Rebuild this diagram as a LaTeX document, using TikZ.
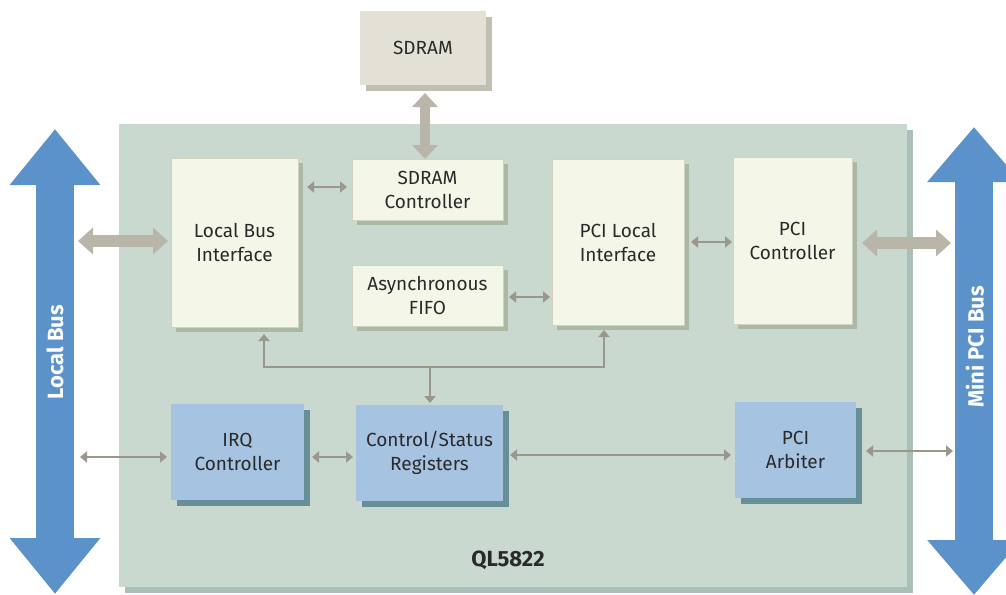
\documentclass[tikz,border=0pt]{standalone}
\usepackage{fontspec}
\setmainfont{Fira Sans}
\usetikzlibrary{shadows,arrows.meta}

\definecolor{chipfill}{HTML}{C9D9D0}
\definecolor{chipshadow}{HTML}{A9BFB7}
\definecolor{boxfill}{HTML}{F4F6E8}
\definecolor{boxline}{HTML}{D3D1C2}
\definecolor{boxshadow}{HTML}{AAB9A3}
\definecolor{bluefill}{HTML}{A6C3E2}
\definecolor{blueshadow}{HTML}{678F98}
\definecolor{busblue}{HTML}{5B92C9}
\definecolor{thinline}{HTML}{9B978C}
\definecolor{thickline}{HTML}{B9B6A9}
\definecolor{memfill}{HTML}{E3E1D5}
\definecolor{memshadow}{HTML}{C0C0B2}
\definecolor{txt}{HTML}{2A2A2A}

\tikzset{
  lbl/.style={font=\fontsize{19}{24}\selectfont, text=txt, align=center},
  block/.style={lbl, inner sep=0pt, outer sep=0pt},
  % box labels sit a little below the box centre
  lowtext/.style={execute at begin node={\vspace*{6pt}}},
  lightbox/.style={block, lowtext, fill=boxfill, draw=boxline, line width=0.8pt,
    drop shadow={shadow xshift=5pt, shadow yshift=-5pt, fill=boxshadow, opacity=1}},
  bluebox/.style={block, fill=bluefill,
    drop shadow={shadow xshift=6pt, shadow yshift=-6pt, fill=blueshadow, opacity=1}},
  membox/.style={block, lowtext, fill=memfill,
    drop shadow={shadow xshift=6pt, shadow yshift=-6pt, fill=memshadow, opacity=1}},
  tarrow/.style={draw=thinline, line width=2.6pt,
    arrows={Triangle[length=7pt,width=11pt]-Triangle[length=7pt,width=11pt]}},
  tone/.style={draw=thinline, line width=2.6pt,
    arrows={-Triangle[length=7pt,width=11pt]}},
  fatarrow/.style={draw=thickline, line width=12pt,
    arrows={Triangle[length=15pt,width=26pt]-Triangle[length=15pt,width=26pt]}},
  busarrow/.style={draw=busblue, line width=38pt,
    arrows={Triangle[length=56pt,width=87pt]-Triangle[length=56pt,width=87pt]}},
  boldlbl/.style={font=\fontsize{22}{24}\selectfont\bfseries},
  buslabel/.style={boldlbl, text=white, rotate=90},
}

\begin{document}
\begin{tikzpicture}[x=1pt,y=-1pt]
\useasboundingbox (0,0) rectangle (1006,594);
\clip (0,0) rectangle (1006,594);

% chip outline with its shadow
\node[block, fill=chipfill, minimum width=788pt, minimum height=463pt,
  drop shadow={shadow xshift=6pt, shadow yshift=-6pt, fill=chipshadow, opacity=1}]
  (chip) at (513,355.5) {};
\node[lbl, boldlbl] (chipname) at (508,560) {QL5822};

% external buses
\coordinate (lbtop) at (55,129);
\coordinate (lbbot) at (55,594);
\draw[busarrow] (lbtop) -- (lbbot);
\node[buslabel] (lblabel) at (55,352) {Local Bus};
\coordinate (lbedge) at (74,300);

\coordinate (pcitop) at (974,127);
\coordinate (pcibot) at (974,595);
\draw[busarrow, arrows={Triangle[length=55pt,width=90pt]-Triangle[length=55pt,width=90pt]}] (pcitop) -- (pcibot);
\node[buslabel] (pcilabel) at (975,347) {Mini PCI Bus};
\coordinate (pciedge) at (955,300);

% external memory
\node[membox, minimum width=126pt, minimum height=74pt] (sdram) at (423,48) {SDRAM};

% internal blocks
\node[lightbox, minimum width=127pt, minimum height=169pt] (lbi) at (234.5,242.5) {Local Bus\\Interface};
\node[lightbox, minimum width=151pt, minimum height=61pt] (sdc) at (427.5,189.5) {SDRAM\\Controller};
\node[lightbox, minimum width=151pt, minimum height=61pt] (fifo) at (427.5,295.5) {Asynchronous\\FIFO};
\node[lightbox, minimum width=132pt, minimum height=166pt] (pli) at (618,242) {PCI Local\\Interface};
\node[lightbox, minimum width=119pt, minimum height=167pt] (pcc) at (792.5,240.5) {PCI\\Controller};

\node[bluebox, minimum width=133pt, minimum height=96pt] (irq) at (237.5,452) {IRQ\\Controller};
\node[bluebox, minimum width=147pt, minimum height=96pt] (csr) at (429.5,453) {Control/Status\\Registers};
\node[bluebox, minimum width=121pt, minimum height=96pt] (arb) at (795.5,450) {PCI\\Arbiter};

% wide data paths
\coordinate (memx) at (425,0);
\draw[fatarrow, line width=10pt, arrows={Triangle[length=14pt,width=25pt]-Triangle[length=14pt,width=25pt]}]
  ([yshift=-8pt]sdram.south -| memx) -- (sdc.north -| memx);
\draw[fatarrow] ([xshift=4pt]lbedge |- 0,241) -- ([xshift=-3pt]lbi.west |- 0,241);
\draw[fatarrow] ([xshift=10pt]pcc.east |- 0,243) -- ([xshift=-4pt]pciedge |- 0,243);

% narrow connections
\draw[tarrow, shorten <=9pt, shorten >=5pt] (lbi.east |- 0,187) -- (sdc.west |- 0,187);
\draw[tarrow, shorten <=6pt, shorten >=2pt] (fifo.east |- 0,297) -- (pli.west |- 0,297);
\draw[tarrow, shorten <=7pt, shorten >=1pt] (pli.east |- 0,242) -- (pcc.west |- 0,242);

\draw[tarrow, shorten <=6pt, shorten >=4pt] (lbedge |- 0,457) -- (irq.west |- 0,457);
\draw[tarrow, shorten <=8pt, shorten >=3pt] (irq.east |- 0,457) -- (csr.west |- 0,457);
\draw[tarrow, shorten <=7pt, shorten >=4pt] (csr.east |- 0,455) -- (arb.west |- 0,455);
\draw[tarrow, shorten <=10pt, shorten >=2pt] (arb.east |- 0,451) -- (pciedge |- 0,451);

% shared internal bus
\coordinate (jl) at (264,367);
\coordinate (jr) at (604,367);
\coordinate (jm) at (430,367);
\draw[tarrow, line join=miter, shorten <=7pt, shorten >=5pt]
  (jl |- lbi.south) -- (jl) -- (jr) -- (jr |- pli.south);
\draw[tone, shorten >=2pt] (jm) -- (jm |- csr.north);
\end{tikzpicture}
\end{document}
